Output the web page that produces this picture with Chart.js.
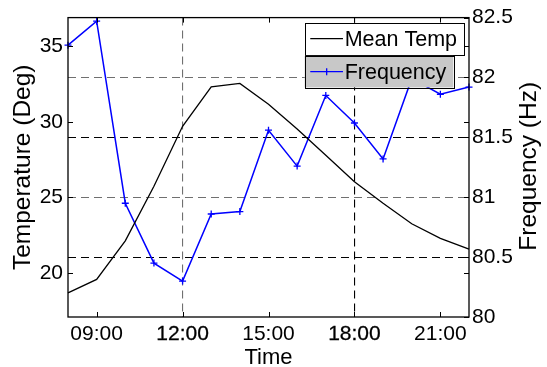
<!DOCTYPE html>
<html>
<head>
<meta charset="utf-8">
<script src="https://cdn.jsdelivr.net/npm/chart.js@4.4.1/dist/chart.umd.min.js"></script>
<style>
  body { margin: 0; background: #fff; }
  #wrap { width: 547px; height: 367px; position: relative; }
</style>
</head>
<body>
<div id="wrap"><canvas id="chart"></canvas></div>
<script>
// hourly readings, 08:00 .. 22:00
const hours = [8, 9, 10, 11, 12, 13, 14, 15, 16, 17, 18, 19, 20, 21, 22];
const meanTemp = [18.69, 19.58, 22.13, 25.74, 29.70, 32.31, 32.53, 31.16, 29.52, 27.79, 26.04, 24.61, 23.26, 22.30, 21.59];
const frequency = [82.27, 82.47, 80.95, 80.45, 80.30, 80.86, 80.88, 81.56, 81.26, 81.85, 81.62, 81.32, 81.99, 81.86, 81.92];

const timeTicks = [9, 12, 15, 18, 21];
const tempTicks = [20, 25, 30, 35];
const freqTicks = [80, 80.5, 81, 81.5, 82, 82.5];

const FONT = "'Liberation Sans', Arial, sans-serif";
const GRID_GRAY = '#707070';

// MATLAB style box: inward ticks, frame, two stacked legend boxes, right title
const matlabBox = {
    id: 'matlabBox',
    afterDatasetsDraw(chart) {
        const { ctx, chartArea: a, scales } = chart;
        const len = 5;
        ctx.save();
        ctx.strokeStyle = '#000';
        ctx.lineWidth = 1;
        ctx.beginPath();
        scales.x.ticks.forEach(t => {
            const px = Math.round(scales.x.getPixelForValue(t.value)) + 0.5;
            ctx.moveTo(px, a.bottom); ctx.lineTo(px, a.bottom - len);
            ctx.moveTo(px, a.top); ctx.lineTo(px, a.top + len);
        });
        scales.y.ticks.forEach(t => {
            const py = Math.round(scales.y.getPixelForValue(t.value)) + 0.5;
            ctx.moveTo(a.left, py); ctx.lineTo(a.left + len, py);
            ctx.moveTo(a.right, py); ctx.lineTo(a.right - len, py);
        });
        scales.y1.ticks.forEach(t => {
            const py = Math.round(scales.y1.getPixelForValue(t.value)) + 0.5;
            ctx.moveTo(a.right, py); ctx.lineTo(a.right - len, py);
        });
        ctx.stroke();
        ctx.lineWidth = 1.3;
        ctx.strokeRect(a.left, a.top, a.right - a.left, a.bottom - a.top);
        ctx.restore();
    },
    afterDraw(chart) {
        const { ctx, chartArea: a } = chart;
        const fills = ['#ffffff', '#c8c8c8'];
        ctx.save();
        ctx.font = '21.5px ' + FONT;
        ctx.textBaseline = 'middle';
        ctx.textAlign = 'left';
        const sets = chart.data.datasets;
        const w0 = 40 + ctx.measureText(sets[0].label).width + 7;
        const x0 = a.right - 5 - w0;
        sets.forEach((ds, i) => {
            const w = 40 + ctx.measureText(ds.label).width + 7;
            const y0 = a.top + 5.3 + i * 33;
            const h = 31.5;
            ctx.fillStyle = fills[i];
            ctx.fillRect(x0, y0, w, h);
            ctx.strokeStyle = '#000';
            ctx.lineWidth = 1;
            ctx.strokeRect(Math.round(x0) + 0.5, Math.round(y0) + 0.5, Math.round(w), Math.round(h));
            const cy = y0 + h / 2;
            ctx.strokeStyle = ds.borderColor;
            ctx.lineWidth = 1.3;
            ctx.beginPath();
            ctx.moveTo(x0 + 5.6, cy); ctx.lineTo(x0 + 38.3, cy);
            if (ds.pointRadius > 0) {
                const mx = x0 + 22, r = ds.pointRadius;
                ctx.moveTo(mx, cy - r); ctx.lineTo(mx, cy + r);
            }
            ctx.stroke();
            ctx.fillStyle = '#000';
            ctx.fillText(ds.label, x0 + 40, cy + 1);
        });
        // right axis title reads bottom-to-top like the left one
        ctx.font = '24.5px ' + FONT;
        ctx.textAlign = 'center';
        ctx.translate(529, (a.top + a.bottom) / 2 - 1);
        ctx.rotate(-Math.PI / 2);
        ctx.fillText('Frequency (Hz)', 0, 0);
        ctx.restore();
    }
};

const hhmm = v => String(v).padStart(2, '0') + ':00';

new Chart(document.getElementById('chart'), {
    type: 'line',
    data: {
        datasets: [{
            label: 'Mean Temp',
            data: hours.map((h, i) => ({ x: h, y: meanTemp[i] })),
            yAxisID: 'y',
            borderColor: '#000000',
            borderWidth: 1.3,
            pointRadius: 0,
            tension: 0,
            clip: false
        }, {
            label: 'Frequency',
            data: hours.map((h, i) => ({ x: h, y: frequency[i] })),
            yAxisID: 'y1',
            borderColor: '#0000ff',
            borderWidth: 1.5,
            pointStyle: 'cross',
            pointRadius: 3.5,
            pointBorderWidth: 1.3,
            pointBorderColor: '#0000ff',
            tension: 0,
            clip: false
        }]
    },
    options: {
        responsive: true,
        maintainAspectRatio: false,
        animation: false,
        layout: { padding: { top: 14, left: 0, right: 0, bottom: 0 } },
        plugins: {
            legend: { display: false },
            tooltip: { enabled: false }
        },
        scales: {
            x: {
                type: 'linear',
                min: 8,
                max: 22,
                afterBuildTicks: s => { s.ticks = timeTicks.map(v => ({ value: v })); },
                afterFit: s => { s.height = 50; },
                grid: {
                    drawTicks: false,
                    lineWidth: 1.1,
                    color: c => c.tick && c.tick.value === 12 ? GRID_GRAY : (c.tick && c.tick.value === 18 ? '#000' : 'rgba(0,0,0,0)')
                },
                border: { display: false, dash: [8, 5] },
                ticks: {
                    color: '#000',
                    padding: 5,
                    font: { family: FONT, size: 21 },
                    callback: v => hhmm(v),
                    textStrokeColor: '#000',
                    textStrokeWidth: c => (c.tick && (c.tick.value === 12 || c.tick.value === 18)) ? 0.3 : 0
                },
                title: {
                    display: true,
                    text: 'Time',
                    color: '#000',
                    font: { family: FONT, size: 22, lineHeight: 0.8 },
                    padding: { top: 0, bottom: 0 }
                }
            },
            y: {
                position: 'left',
                min: 17.1,
                max: 36.88,
                afterBuildTicks: s => { s.ticks = tempTicks.map(v => ({ value: v })); },
                afterFit: s => { s.width = 68; },
                grid: { display: false, drawTicks: false },
                border: { display: false },
                ticks: {
                    color: '#000',
                    padding: 5,
                    font: { family: FONT, size: 21 },
                    callback: v => String(v)
                },
                title: {
                    display: true,
                    text: 'Temperature (Deg)',
                    color: '#000',
                    font: { family: FONT, size: 24.5 },
                    padding: { top: 8.8, bottom: 0 }
                }
            },
            y1: {
                position: 'right',
                min: 80,
                max: 82.5,
                afterBuildTicks: s => { s.ticks = freqTicks.map(v => ({ value: v })); },
                afterFit: s => { s.width = 78; },
                grid: {
                    drawTicks: false,
                    lineWidth: 1.1,
                    color: c => {
                        const v = c.tick && c.tick.value;
                        if (v === 82 || v === 81) return GRID_GRAY;
                        if (v === 81.5 || v === 80.5) return '#000';
                        return 'rgba(0,0,0,0)';
                    }
                },
                border: { display: false, dash: [8, 5] },
                ticks: {
                    color: '#000',
                    padding: 3,
                    font: { family: FONT, size: 21 },
                    callback: v => String(v)
                }
            }
        }
    },
    plugins: [matlabBox]
});
</script>
</body>
</html>
